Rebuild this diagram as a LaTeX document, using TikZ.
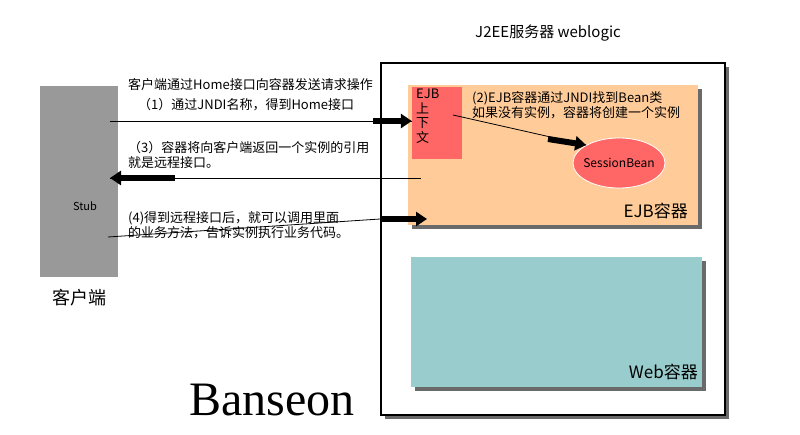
\documentclass[tikz,border=0pt]{standalone}
\usepackage{fontspec}
\setmainfont{Noto Sans CJK SC}
\newfontfamily\logofont{Liberation Serif}
\usetikzlibrary{arrows.meta,shapes.geometric}

\definecolor{stubgray}{HTML}{999999}
\definecolor{ejborange}{HTML}{FFCC99}
\definecolor{ctxred}{HTML}{FF6666}
\definecolor{webteal}{HTML}{99CCCC}
\definecolor{shadowgray}{HTML}{6A6A6A}

\begin{document}
\begin{tikzpicture}[x=1pt,y=-1pt,
  every node/.style={inner sep=0pt},
  note/.style={anchor=west,align=left,font=\fontsize{13}{15}\selectfont},
  thinline/.style={line width=0.8pt},
  bigarrow/.style={line width=6pt,-{Triangle[length=11pt,width=14pt]}}]

\useasboundingbox (0,0) rectangle (800,434);
\fill[white] (0,0) rectangle (800,434);

% client side
\node[fill=stubgray,minimum width=78pt,minimum height=191pt] (stub) at (79,181.5) {};
\node[font=\fontsize{11}{13}\selectfont] (stublbl) at (85,206) {Stub};
\node[font=\fontsize{18}{20}\selectfont] (client) at (79,298) {客户端};

% server side (shadows first)
\fill[shadowgray] (385,67) rectangle (729,419);
\node[draw,line width=1.2pt,fill=white,minimum width=344pt,minimum height=352pt] (server) at (553,239) {};
\node[font=\fontsize{15}{17}\selectfont] (title) at (548,33) {J2EE服务器 weblogic};

\fill[shadowgray] (411.5,89) rectangle (701.5,229);
\node[fill=ejborange,minimum width=290pt,minimum height=140pt] (ejb) at (552.5,155) {};
\node[anchor=east,font=\fontsize{17}{19}\selectfont] (ejblbl) at (688,211) {EJB容器};

\node[fill=ctxred,minimum width=50pt,minimum height=72pt] (ejbctx) at (437,123) {};
\node[anchor=north west,align=left,font=\fontsize{13}{14.5}\selectfont] (ctxlbl) at (416,89) {EJB\\上\\下\\文};

\node[ellipse,draw=white,thinline,fill=ctxred,minimum width=92pt,minimum height=50pt] (bean) at (619,163) {};
\node[font=\fontsize{12}{14}\selectfont] (beanlbl) at (bean.center) {SessionBean};

\fill[shadowgray] (415,261) rectangle (706,391);
\node[fill=webteal,minimum width=291pt,minimum height=130pt] (web) at (556.5,322) {};
\node[anchor=east,font=\fontsize{17}{19}\selectfont] (weblbl) at (698,372) {Web容器};

\node[anchor=base west,font=\logofont\fontsize{48}{50}\selectfont] (logo) at (189,415) {Banseon};

% texts
\node[note] (t0) at (128,85) {客户端通过Home接口向容器发送请求操作};
\node[note] (t1) at (138,105) {（1）通过JNDI名称，得到Home接口};
\node[note] (t3) at (128,155) {（3）容器将向客户端返回一个实例的引用\\就是远程接口。};
\node[note] (t4) at (128,225) {(4)得到远程接口后，就可以调用里面\\的业务方法，告诉实例执行业务代码。};
\node[note] (t2) at (472,105.5) {(2)EJB容器通过JNDI找到Bean类\\如果没有实例，容器将创建一个实例};

% connectors
\coordinate (a1) at (110,121);
\coordinate (a1b) at (373,121);
\draw[thinline] (a1) -- (a1 -| ejbctx.west);
\draw[bigarrow] (a1b) -- (a1 -| ejbctx.west);

\coordinate (a3) at (421,178);
\coordinate (a3b) at (175,178);
\draw[thinline] (a3) -- (110,178);
\draw[bigarrow] (a3b) -- (110,178);

\coordinate (a2) at (453,115);
\coordinate (a2b) at (548,139);
\draw[thinline] (a2) -- (bean.north west);
\draw[bigarrow] (a2b) -- (bean.north west);

\coordinate (a4) at (108,237);
\coordinate (a4b) at (380,219);
\coordinate (a4e) at (427,219);
\draw[thinline] (a4) -- (a4b);
\draw[bigarrow] (a4b) -- (a4e);

\end{tikzpicture}
\end{document}
